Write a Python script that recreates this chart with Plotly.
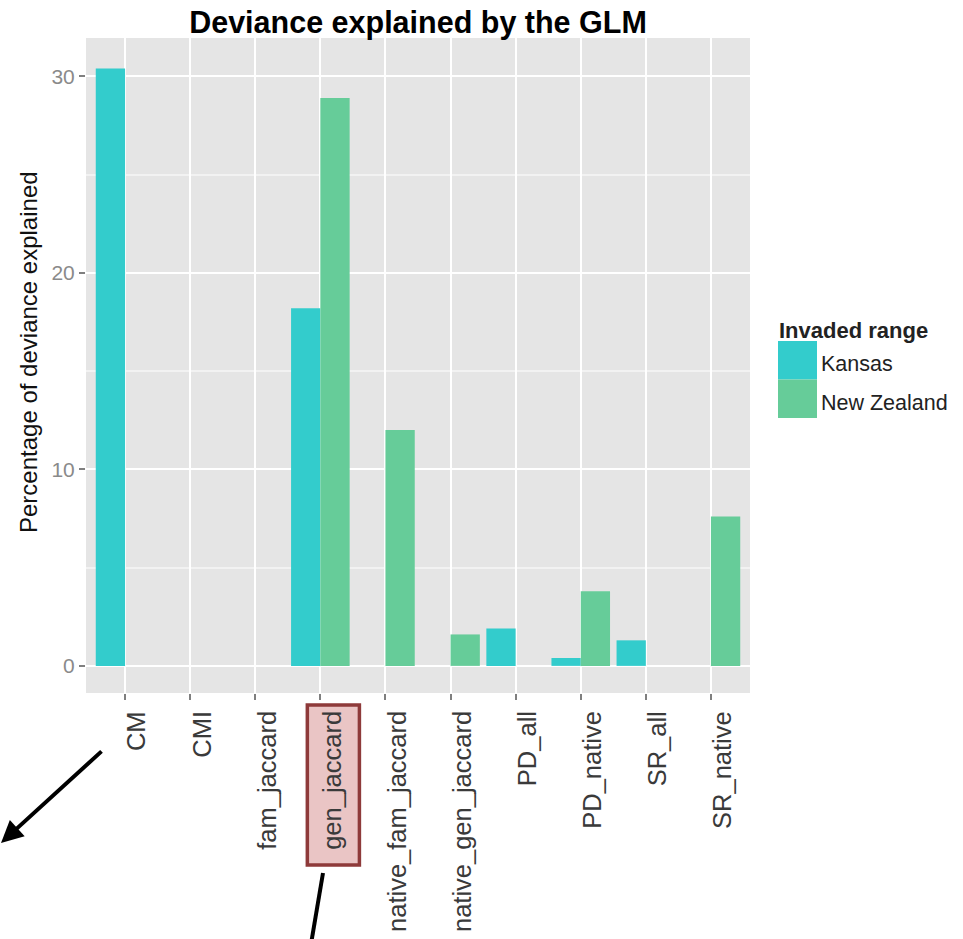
import plotly.graph_objects as go

# Percentage of deviance explained, per predictor and invaded range
categories = ["CM", "CMI", "fam_jaccard", "gen_jaccard", "native_fam_jaccard",
              "native_gen_jaccard", "PD_all", "PD_native", "SR_all", "SR_native"]
kansas = [30.4, None, None, 18.2, None, None, 1.9, 0.4, 1.3, None]
new_zealand = [None, None, None, 28.9, 12.0, 1.6, None, 3.8, None, 7.6]

series_names = ["Kansas", "New Zealand"]
series_values = [kansas, new_zealand]
series_colors = ["#33CCCC", "#66CC99"]

y_ticks = [0, 10, 20, 30]
y_minor = [5, 15, 25]

title_text = "Deviance explained by the GLM"
y_title = "Percentage of deviance explained"
legend_title = "Invaded range"
highlight = "gen_jaccard"

W, H = 963, 939
ML, MR, MT, MB = 86, 213, 38, 246
PW, PH = W - ML - MR, H - MT - MB
FONT = "Liberation Sans, Arial, sans-serif"


def px(xp):
    return (xp - ML) / PW


def py(yp):
    return (H - MB - yp) / PH


fig = go.Figure()
for name, vals, col in zip(series_names, series_values, series_colors):
    fig.add_trace(go.Bar(x=categories, y=vals, name=name, marker_color=col,
                         marker_line_width=0, showlegend=False))

annotations = []
# category labels, rotated and set slightly right of each tick
for cat in categories:
    annotations.append(dict(
        x=cat, xref="x", y=py(709), yref="paper", text=cat, showarrow=False,
        textangle=-90, xanchor="center", yanchor="top", xshift=11,
        font=dict(family=FONT, size=25.5, color="#3A3A3A")))

# y axis title
annotations.append(dict(
    x=px(29), xref="paper", y=py(352), yref="paper", text=y_title,
    showarrow=False, textangle=-90, xanchor="center", yanchor="middle",
    font=dict(family=FONT, size=24, color="#111111")))

# legend built from the series
annotations.append(dict(
    x=px(777), xref="paper", y=py(330), yref="paper",
    text="<b>" + legend_title + "</b>", showarrow=False,
    xanchor="left", yanchor="middle",
    font=dict(family=FONT, size=22, color="#222222")))
shapes = []
key_top = 341
key_h = 38.5
for i, (name, col) in enumerate(zip(series_names, series_colors)):
    y0 = key_top + i * key_h
    shapes.append(dict(type="rect", xref="paper", yref="paper",
                       x0=px(778), x1=px(817), y0=py(y0), y1=py(y0 + key_h),
                       fillcolor=col, line_width=0, layer="above"))
    annotations.append(dict(
        x=px(819), xref="paper", y=py(y0 + key_h / 2 + 4), yref="paper",
        text=name, showarrow=False, xanchor="left", yanchor="middle",
        font=dict(family=FONT, size=21.5, color="#222222")))

# highlight box around one category label
hi = categories.index(highlight)
shapes.append(dict(type="rect", xref="x", yref="paper",
                   x0=hi - 0.2, x1=hi + 0.6, y0=py(705), y1=py(865),
                   fillcolor="#EAC5C5", line=dict(color="#8E3A3A", width=3.5),
                   layer="below"))
shapes.append(dict(type="line", xref="paper", yref="paper",
                   x0=px(323), y0=py(873), x1=px(310), y1=py(950),
                   line=dict(color="black", width=4)))

# pointer arrow from the first label
annotations.append(dict(
    x=px(0), xref="paper", y=py(843), yref="paper", text="",
    showarrow=True, ax=103, ay=-93, arrowhead=2, arrowsize=1.1,
    arrowwidth=4, arrowcolor="black"))

fig.update_layout(
    width=W, height=H,
    margin=dict(l=ML, r=MR, t=MT, b=MB, autoexpand=False),
    paper_bgcolor="white", plot_bgcolor="#E5E5E5",
    barmode="group", bargap=0.1, bargroupgap=0,
    title=dict(text="<b>" + title_text + "</b>", x=px(418), xanchor="center",
               xref="paper", y=1 - 22 / H, yref="container", yanchor="middle",
               font=dict(family=FONT, size=30.5, color="black")),
    xaxis=dict(type="category", categoryorder="array", categoryarray=categories,
               range=[-0.6, 9.6], showgrid=True, gridcolor="white", gridwidth=2,
               ticks="outside", ticklen=6, tickwidth=2, tickcolor="#7F7F7F",
               showticklabels=False, zeroline=False, showline=False,
               fixedrange=True),
    yaxis=dict(range=[-1.38, 31.95], tickvals=y_ticks, ticks="outside",
               ticklen=6, tickwidth=2, tickcolor="#7F7F7F",
               tickfont=dict(family=FONT, size=21, color="#8A8A8A"),
               showgrid=True, gridcolor="white", gridwidth=2,
               minor=dict(tickvals=y_minor, showgrid=True, gridcolor="#F2F2F2",
                          gridwidth=1.5, ticks=""),
               zeroline=False, showline=False, fixedrange=True),
    annotations=annotations,
    shapes=shapes,
)

fig.write_html("out.html")
